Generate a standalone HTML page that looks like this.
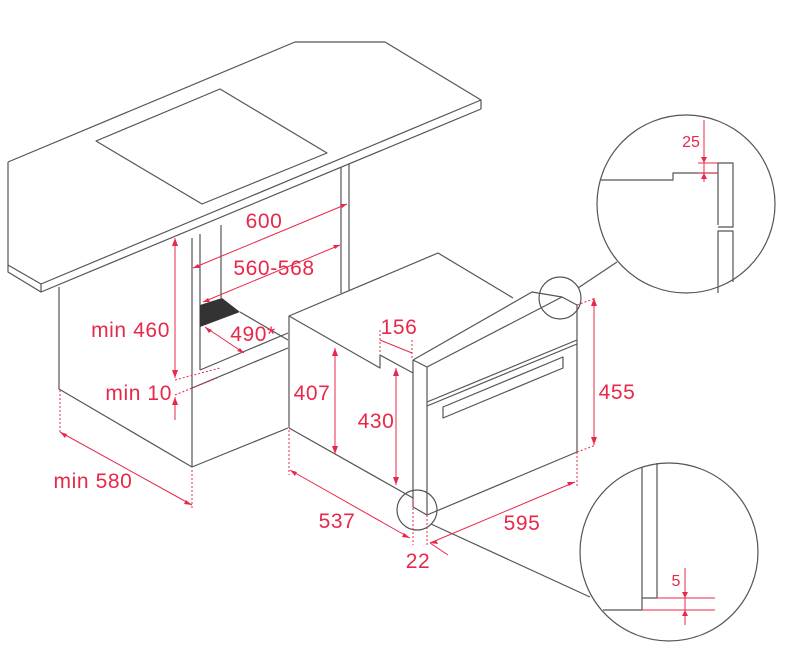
<!DOCTYPE html>
<html><head><meta charset="utf-8"><style>
html,body{margin:0;padding:0;background:#fff;}
svg{display:block;}
text{font-family:"Liberation Sans",sans-serif;fill:#e8284a;font-size:21px;letter-spacing:0.6px;}
</style></head><body>
<svg width="790" height="670" viewBox="0 0 790 670" xmlns="http://www.w3.org/2000/svg">
<g fill="none" stroke="#555" stroke-width="1.2" stroke-linejoin="round">
<polyline points="8,162 295,42 385,42 481,100 481,109"/>
<line x1="481" y1="100" x2="41" y2="284"/>
<line x1="481" y1="109" x2="41" y2="292"/>
<polyline points="8,162 8,265 41,284 41,292 8,272 8,265"/>
<polygon points="96,141 220,89 327,153 202,204"/>
<polyline points="59,287 59,389 192,467 288,428"/>
<line x1="192" y1="238" x2="192" y2="467"/>
<line x1="200" y1="234" x2="200" y2="370"/>
<line x1="221" y1="225" x2="221" y2="298"/>
<line x1="341" y1="167" x2="341" y2="293"/>
<line x1="349" y1="164" x2="349" y2="290"/>
<line x1="200" y1="370" x2="288" y2="333"/>
<line x1="192" y1="388" x2="288" y2="348"/>
<line x1="240" y1="312" x2="288" y2="340"/>
<polyline points="289,428 289,316 438,253 513,298"/>
<polyline points="289,316 380,368 380,355 413,373"/>
<line x1="289" y1="428" x2="413" y2="498"/>
<polyline points="413,360 532,292 562,297 577,305"/>
<line x1="413" y1="360" x2="427" y2="367"/>
<line x1="427" y1="367" x2="562" y2="297"/>
<line x1="413" y1="360" x2="413" y2="507"/>
<line x1="427" y1="367" x2="427" y2="515"/>
<line x1="413" y1="507" x2="427" y2="515"/>
<polyline points="427,515 577,452 577,305"/>
<line x1="427" y1="402" x2="577" y2="340"/>
<line x1="427" y1="406" x2="577" y2="344"/>
<polygon points="443,407 563,357 563,368 443,418"/>
<circle cx="560" cy="298" r="21"/>
<circle cx="417" cy="510" r="20"/>
<line x1="578" y1="288" x2="617" y2="262"/>
<line x1="431" y1="524" x2="590" y2="597"/>
<circle cx="686" cy="204" r="89"/>
<circle cx="669" cy="552" r="89"/>
<polyline points="601,180 673,180 673,173 718,173"/>
<polyline points="718,225 718,163 733,163 733,227 718,227"/>
<polyline points="718,293 718,231 733,231 733,282"/>
<polyline points="603,610 642,610 642,467"/>
<polyline points="642,598 657,598 657,463"/>
</g>
<polygon points="200,305 222,298 240,312 200,327" fill="#333"/>
<g stroke="#e8284a" stroke-width="1" fill="none">
<line x1="193" y1="268" x2="347" y2="204"/>
<line x1="203" y1="302" x2="340" y2="245"/>
<line x1="175" y1="238" x2="175" y2="378"/>
<line x1="175" y1="397" x2="175" y2="420"/>
<line x1="205" y1="327" x2="244" y2="353"/>
<line x1="60" y1="432" x2="192" y2="505"/>
<line x1="335" y1="348" x2="335" y2="454"/>
<line x1="396" y1="368" x2="396" y2="485"/>
<line x1="380" y1="340" x2="412" y2="353"/>
<line x1="594" y1="298" x2="594" y2="445"/>
<line x1="290" y1="470" x2="410" y2="538"/>
<line x1="430" y1="543" x2="575" y2="482"/>
<line x1="430" y1="543" x2="448" y2="555"/>
<line x1="704" y1="120" x2="704" y2="182"/>
<line x1="698" y1="163" x2="718" y2="163"/>
<line x1="698" y1="173" x2="718" y2="173"/>
<line x1="685" y1="568" x2="685" y2="625"/>
<line x1="657" y1="598" x2="715" y2="598"/>
<line x1="642" y1="610" x2="715" y2="610"/>
<g stroke-dasharray="2,2">
<line x1="175" y1="380" x2="220" y2="368"/>
<line x1="175" y1="395" x2="217" y2="378"/>
<line x1="60" y1="390" x2="60" y2="432"/>
<line x1="192" y1="470" x2="192" y2="510"/>
<line x1="289" y1="430" x2="289" y2="475"/>
<line x1="380" y1="330" x2="380" y2="352"/>
<line x1="412" y1="340" x2="412" y2="360"/>
<line x1="413" y1="500" x2="413" y2="545"/>
<line x1="427" y1="515" x2="427" y2="545"/>
<line x1="577" y1="452" x2="577" y2="487"/>
<line x1="577" y1="305" x2="596" y2="298"/>
<line x1="577" y1="452" x2="596" y2="445"/>
</g>
</g>
<g fill="#e8284a">
<polygon points="347,204 340,204 342,208"/><polygon points="193,268 200,268 198,264"/>
<polygon points="340,245 333,245 335,249"/><polygon points="203,302 210,302 208,298"/>
<polygon points="175,238 172,246 178,246"/><polygon points="175,378 172,370 178,370"/>
<polygon points="175,397 172,405 178,405"/>
<polygon points="205,327 209,333 212,330"/><polygon points="244,353 237,351 240,348"/>
<polygon points="60,432 65,438 67,434"/><polygon points="192,505 184,504 186,500"/>
<polygon points="335,348 332,356 338,356"/><polygon points="335,454 332,446 338,446"/>
<polygon points="396,368 393,376 399,376"/><polygon points="396,485 393,477 399,477"/>
<polygon points="594,298 591,306 597,306"/><polygon points="594,445 591,437 597,437"/>
<polygon points="290,470 295,476 297,472"/><polygon points="410,538 402,537 404,533"/>
<polygon points="575,482 567,482 569,486"/><polygon points="430,543 438,544 436,540"/>
<polygon points="704,163 701,157 707,157"/><polygon points="704,173 701,179 707,179"/>
<polygon points="685,598 682,592 688,592"/><polygon points="685,610 682,616 688,616"/>
</g>
<text x="264" y="228" text-anchor="middle">600</text>
<text x="274" y="275" text-anchor="middle">560-568</text>
<text x="253" y="341" text-anchor="middle">490*</text>
<text x="170" y="337" text-anchor="end">min 460</text>
<text x="172" y="400" text-anchor="end">min 10</text>
<text x="93" y="488" text-anchor="middle">min 580</text>
<text x="312" y="400" text-anchor="middle">407</text>
<text x="376" y="428" text-anchor="middle">430</text>
<text x="399" y="334" text-anchor="middle">156</text>
<text x="617" y="399" text-anchor="middle">455</text>
<text x="337" y="528" text-anchor="middle">537</text>
<text x="522" y="530" text-anchor="middle">595</text>
<text x="418" y="568" text-anchor="middle">22</text>
<text x="691" y="147" text-anchor="middle" style="font-size:16px;letter-spacing:0">25</text>
<text x="676" y="586" text-anchor="middle" style="font-size:16px;letter-spacing:0">5</text>
</svg>
</body></html>
